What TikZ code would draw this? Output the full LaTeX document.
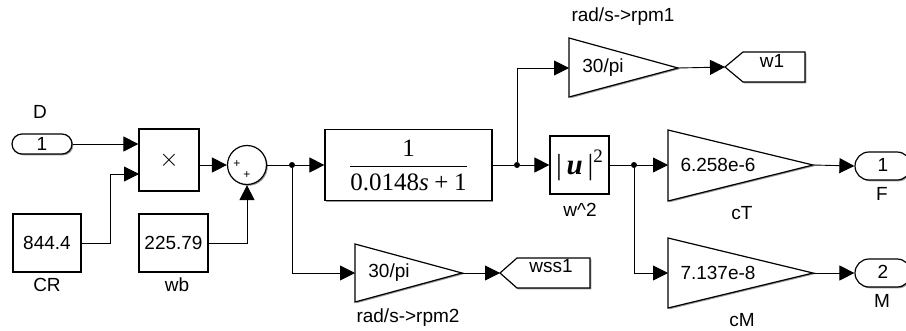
\documentclass[tikz,border=0pt]{standalone}
\usepackage{amsmath}
\usepackage{fontspec}
\setmainfont{Liberation Sans}
\newfontfamily\tfserif{Liberation Serif}
\usetikzlibrary{shapes.misc,arrows.meta,shadows}
\begin{document}
\begin{tikzpicture}[x=1pt,y=-1pt, font=\fontsize{19}{22}\selectfont,
  blk/.style={draw, line width=1.2pt, fill=white, inner sep=0pt},
  shad/.style={drop shadow={shadow xshift=1.3pt, shadow yshift=-1.3pt, opacity=0.4, fill=black}},
  conn/.style={line width=0.9pt},
  arr/.style={conn, -{Triangle[length=15pt,width=15pt]}},
  bdot/.style={circle, fill, inner sep=0pt, minimum size=6pt},
  pill/.style={blk, shad, rounded rectangle},
  lbl/.style={inner sep=0pt},
]
\useasboundingbox[fill=white] (0,0) rectangle (906,330);

% Inport D
\node[pill, minimum width=60pt, minimum height=20pt] (D) at (42,144) {1};
\node[lbl] (Dl) at (40,112) {D};

% Product
\node[blk, shad, minimum width=60pt, minimum height=62pt] (prod) at (169,160) {\fontsize{27}{28}\selectfont$\times$};
\coordinate (prodin2) at (139,174);

% Constants
\node[blk, shad, minimum width=68pt, minimum height=58pt] (CR) at (47,243) {844.4};
\node[lbl] (CRl) at (47,285) {CR};
\node[blk, shad, minimum width=69pt, minimum height=58pt] (wb) at (173.5,243) {225.79};
\node[lbl] (wbl) at (177,285) {wb};

% Sum
\node[blk, shad, circle, minimum size=39pt] (sum) at (247,165) {};
\node[lbl, font=\fontsize{12}{12}\selectfont] (sp1) at (237,164) {+};
\node[lbl, font=\fontsize{12}{12}\selectfont] (sp2) at (247,175) {+};

% Transfer function
\node[blk, shad, minimum width=167pt, minimum height=71pt] (TF) at (408.5,165)
  {\fontsize{25}{30}\selectfont$\displaystyle\frac{\text{\tfserif 1}}{\text{\tfserif 0.0148\textit{s}\hspace{0.22em}+\hspace{0.22em}1}}$};

% Branch points
\node[bdot] (b1) at (292,165) {};
\node[bdot] (b2) at (517,165) {};
\node[bdot] (b3) at (634,165) {};

% rad/s->rpm1 gain
\filldraw[blk, shad] (569,38) -- (569,97) -- (678,68) -- cycle;
\coordinate (g1in) at (569,68);
\coordinate (g1out) at (678,68);
\node[lbl] (g1t) at (603,68) {30/pi};
\node[lbl] (g1l) at (623,17) {rad/s->rpm1};

% Goto w1
\filldraw[blk, shad] (725,67) -- (743,52) -- (805,52) -- (805,82) -- (743,82) -- cycle;
\coordinate (w1tip) at (725,67);
\node[lbl, anchor=base] (w1t) at (772,67) {w1};

% |u|^2
\node[blk, shad, minimum width=59pt, minimum height=58pt] (sq) at (579.5,165)
  {\fontsize{29}{32}\selectfont\tfserif |\,\textbf{\textit{u}}\,|\raisebox{0.42em}{\fontsize{19}{20}\selectfont 2}};
\node[lbl] (sql) at (580,210) {w\textasciicircum 2};

% cT gain
\filldraw[blk, shad] (668,130) -- (668,201) -- (813,165) -- cycle;
\coordinate (cTin) at (668,165);
\coordinate (cTout) at (813,165);
\node[lbl] (cTt) at (718,165) {6.258e-6};
\node[lbl] (cTl) at (742,213) {cT};

% cM gain
\filldraw[blk, shad] (668,238) -- (668,308) -- (813,273) -- cycle;
\coordinate (cMin) at (668,273);
\coordinate (cMout) at (813,273);
\node[lbl] (cMt) at (718,273) {7.137e-8};
\node[lbl] (cMl) at (742,320) {cM};

% Outports
\node[pill, minimum width=56pt, minimum height=28pt] (F) at (883,166) {\raisebox{3pt}{1}};
\node[lbl] (Fl) at (882,194) {F};
\node[pill, minimum width=56pt, minimum height=28pt] (M) at (883,273) {\raisebox{3pt}{2}};
\node[lbl] (Ml) at (882,301) {M};

% rad/s->rpm2 gain
\filldraw[blk, shad] (355,244) -- (355,302) -- (462,273) -- cycle;
\coordinate (g2in) at (355,273);
\coordinate (g2out) at (462,273);
\node[lbl] (g2t) at (389,273) {30/pi};
\node[lbl] (g2l) at (408,318) {rad/s->rpm2};

% Goto wss1
\filldraw[blk, shad] (500,273) -- (517,258) -- (590,258) -- (590,288) -- (517,288) -- cycle;
\coordinate (wsstip) at (500,273);
\node[lbl, anchor=base] (wsst) at (551,272) {wss1};

% Connectors
\draw[arr] (D.east) -- (prod.west |- D.east);
\draw[arr] (CR.east) -| (110,174) -- (prodin2);
\draw[arr] (prod.east |- sum) -- (sum.west);
\draw[arr] (wb.east) -| (sum.south);
\draw[conn] (sum.east) -- (b1);
\draw[arr] (b1) -- (TF.west);
\draw[arr] (b1) |- (g2in);
\draw[arr] (g2out) -- (wsstip);
\draw[conn] (TF.east) -- (b2);
\draw[arr] (b2) -- (sq.west);
\draw[arr] (b2) |- (g1in);
\draw[arr] (g1out) -- (w1tip);
\draw[conn] (sq.east) -- (b3);
\draw[arr] (b3) -- (cTin);
\draw[arr] (b3) |- (cMin);
\draw[arr] (cTout) -- (F.west);
\draw[arr] (cMout) -- (M.west);
\end{tikzpicture}
\end{document}
